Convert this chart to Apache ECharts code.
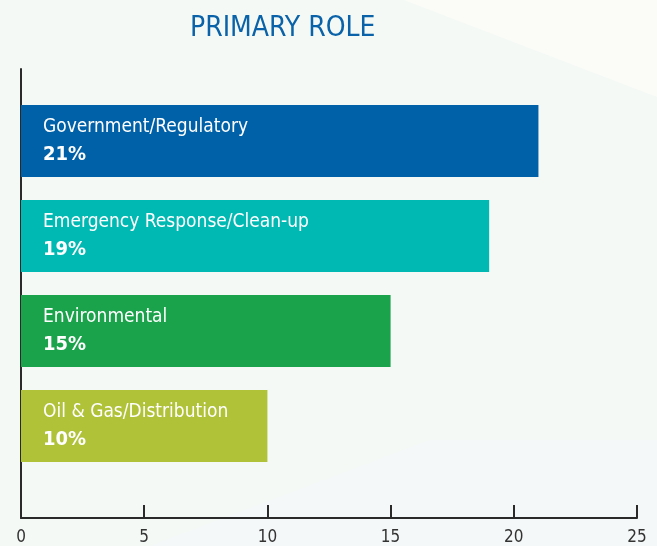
<!DOCTYPE html>
<html>
<head>
<meta charset="utf-8">
<script src="https://cdn.jsdelivr.net/npm/echarts@6/dist/echarts.min.js"></script>
<style>
  html, body { margin: 0; padding: 0; background: #f4f9f6; }
  #roleChart { width: 657px; height: 546px; }
</style>
</head>
<body>
<div id="roleChart"></div>
<script>
// 数据
var roleNames = ['Government/Regulatory', 'Emergency Response/Clean-up', 'Environmental', 'Oil & Gas/Distribution']
var roleValues = [21, 19, 15, 10]
var roleColors = ['#0061a8', '#00b9b3', '#1aa34a', '#afc238']
var xTicks = [0, 5, 10, 15, 20, 25]

var FONT = '"Liberation Sans Narrow", "DejaVu Sans Condensed", sans-serif'
var AXIS_COLOR = '#2a2a2a'

var dom = document.getElementById('roleChart')
var myChart = echarts.init(dom)

function initSeriesData() {
    return roleValues.map(function (v, i) {
        return {
            value: v,
            itemStyle: { color: roleColors[i] }
        }
    })
}

myChart.setOption({
    backgroundColor: '#f4f9f6',
    animation: false,
    graphic: [
        {
            type: 'polygon',
            silent: true,
            z: -10,
            shape: { points: [[404, 0], [657, 0], [657, 97]] },
            style: { fill: '#fbfcf8' }
        },
        {
            type: 'polygon',
            silent: true,
            z: -10,
            shape: { points: [[150, 546], [430, 440], [657, 440], [657, 546]] },
            style: { fill: '#f5f8f9' }
        }
    ],
    title: {
        text: 'PRIMARY ROLE',
        left: 185,
        top: 10,
        textStyle: {
            color: '#0a63a8',
            fontFamily: FONT,
            fontWeight: 'normal',
            fontSize: 28
        }
    },
    // grid 0: 坐标轴线; grid 1: 柱子
    grid: [
        { left: 21, right: 20, top: 69, bottom: 28 },
        { left: 21, right: 20, top: 93.5, bottom: 72.5 }
    ],
    xAxis: [
        {
            gridIndex: 0,
            type: 'value',
            min: 0,
            max: 25,
            interval: 5,
            axisLine: { show: true, lineStyle: { color: AXIS_COLOR, width: 2 } },
            axisTick: { show: true, inside: true, length: 13, lineStyle: { color: AXIS_COLOR, width: 2 } },
            axisLabel: {
                color: '#333',
                fontFamily: FONT,
                fontSize: 17,
                margin: 11,
                formatter: function (v) { return xTicks.indexOf(v) > -1 ? String(v) : '' }
            },
            splitLine: { show: false }
        },
        {
            gridIndex: 1,
            type: 'value',
            min: 0,
            max: 25,
            show: false
        }
    ],
    yAxis: [
        {
            gridIndex: 0,
            type: 'value',
            min: 0,
            max: 1,
            axisLine: { show: true, lineStyle: { color: AXIS_COLOR, width: 2 } },
            axisTick: { show: false },
            axisLabel: { show: false },
            splitLine: { show: false }
        },
        {
            gridIndex: 1,
            type: 'category',
            inverse: true,
            data: roleNames,
            show: false
        }
    ],
    series: [{
        type: 'bar',
        xAxisIndex: 1,
        yAxisIndex: 1,
        barWidth: 72,
        data: initSeriesData(),
        label: {
            show: true,
            position: 'insideLeft',
            distance: 22,
            formatter: function (p) {
                return '{n|' + p.name + '}\n{p|' + p.value + '%}'
            },
            rich: {
                n: { color: '#fff', fontFamily: FONT, fontSize: 19, lineHeight: 28 },
                p: { color: '#fff', fontFamily: FONT, fontSize: 20, fontWeight: 'bold', lineHeight: 28 }
            }
        }
    }]
})
</script>
</body>
</html>
